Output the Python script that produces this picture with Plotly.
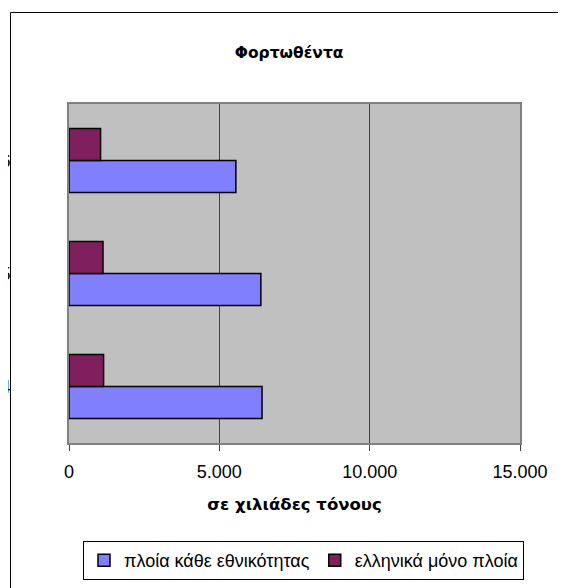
import plotly.graph_objects as go

categories = ["2004", "2005", "2006"]
all_ships = [6420, 6380, 5550]
greek_ships = [1150, 1130, 1050]
x_ticks = [0, 5000, 10000, 15000]

# the page body adds an 8px offset, so screen targets are shifted back by it
OFF = 8
W, H = 566, 588
L, R, T, B = 69 - OFF, 520 - OFF, 104 - OFF, 443 - OFF


def px(x):
    return (x - OFF - L) / (R - L)


def py(y):
    return (B - (y - OFF)) / (B - T)


font_main = "Arial, 'Liberation Sans', sans-serif"
font_bold = "'DejaVu Sans', Verdana, sans-serif"

fig = go.Figure()
fig.add_trace(go.Bar(
    y=categories, x=all_ships, orientation="h",
    name="πλοία κάθε εθνικότητας",
    marker={"color": "#8080FF", "line": {"color": "#000000", "width": 1.5}},
))
fig.add_trace(go.Bar(
    y=categories, x=greek_ships, orientation="h",
    name="ελληνικά μόνο πλοία",
    marker={"color": "#801F5E", "line": {"color": "#000000", "width": 1.5}},
))

# chart area border (only the left and top edges are inside the picture)
fig.add_shape(type="line", xref="paper", yref="paper",
              x0=px(10.5), x1=px(700), y0=py(12.5), y1=py(12.5),
              line={"color": "#000000", "width": 1}, layer="below")
fig.add_shape(type="line", xref="paper", yref="paper",
              x0=px(10.5), x1=px(10.5), y0=py(12.5), y1=py(700),
              line={"color": "#000000", "width": 1}, layer="below")

fig.update_layout(
    width=W, height=H,
    margin={"l": L, "r": W - R, "t": T, "b": H - B},
    paper_bgcolor="white",
    plot_bgcolor="#C0C0C0",
    barmode="group",
    bargap=0.434,
    bargroupgap=0,
    separators=",.",
    font={"family": font_main, "size": 16, "color": "#000000"},
    title={"text": "<b>Φορτωθέντα</b>", "x": px(293), "xanchor": "center",
           "y": 1 - (53 - OFF) / H, "yanchor": "middle",
           "font": {"size": 15.5, "family": font_bold}},
    xaxis={
        "range": [0, 15000],
        "tickvals": x_ticks,
        "tickformat": ",d",
        "showgrid": True, "gridcolor": "#404040", "gridwidth": 1,
        "zeroline": False,
        "showline": True, "linecolor": "#808080", "linewidth": 2, "mirror": True,
        "ticks": "outside", "ticklen": 6, "tickcolor": "#404040",
        "tickfont": {"size": 18},
        "ticklabelstandoff": 5,
        "title": {"text": "<b>σε χιλιάδες τόνους</b>",
                  "font": {"size": 16.5, "family": font_bold}, "standoff": 18},
    },
    yaxis={
        "showgrid": False,
        "showline": True, "linecolor": "#808080", "linewidth": 2, "mirror": True,
        "ticks": "",
        "tickfont": {"size": 18},
        "ticklabelstandoff": 53,
        "automargin": False,
    },
    legend={
        "orientation": "h",
        "x": px(303.5), "xanchor": "center",
        "y": py(541), "yanchor": "top",
        "bordercolor": "#000000", "borderwidth": 1,
        "bgcolor": "white",
        "font": {"size": 18},
        "traceorder": "normal",
    },
)

fig.write_html("out.html")
